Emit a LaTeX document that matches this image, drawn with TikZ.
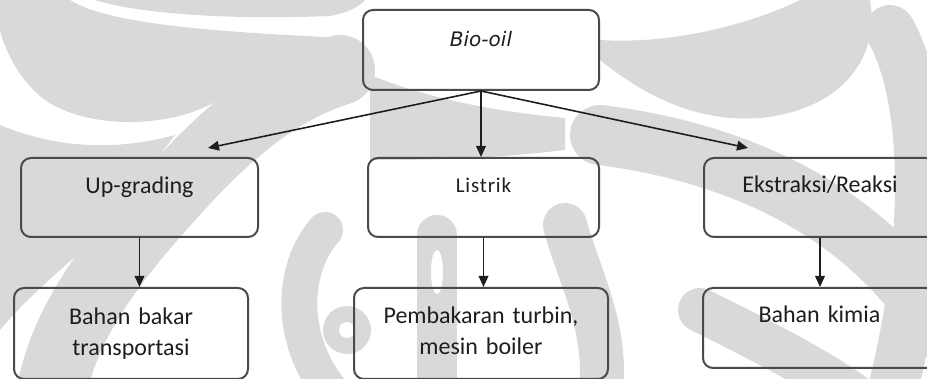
\documentclass[tikz,border=0pt]{standalone}
\usepackage{fontspec}
\setmainfont{Carlito}
\newfontfamily\oilfont{DejaVu Sans}
\usetikzlibrary{arrows.meta,positioning}
\definecolor{boxgray}{HTML}{4A4A4A}
\definecolor{inkgray}{HTML}{1E1E1E}
\definecolor{wmgray}{HTML}{D9D9D9}
\tikzset{
    % flow chart boxes, text sits in the upper part
    stage/.style={
           draw=boxgray,
           line width=1pt,
           rounded corners=5pt,
           inner sep=0pt,
           anchor=north west,
           align=center,
           text=inkgray,
           font=\fontsize{12}{15.5}\selectfont},
    % arrows between boxes
    flow/.style={
           -{Triangle[length=5.5pt,width=4.8pt]},
           line width=0.8pt,
           draw=inkgray},
    % background mark
    mark band/.style={
           draw=wmgray,
           line cap=round}
}

\begin{document}
\begin{tikzpicture}[x=0.5pt,y=-0.5pt]
\useasboundingbox (0,0) rectangle (927,379);
\begin{scope}
\clip (0,0) rectangle (927,379);
% left swirl
\fill[wmgray] (0,0) -- (70,0) .. controls (110,25) and (220,32) .. (345,38)
   .. controls (300,55) and (260,75) .. (215,102)
   .. controls (165,130) and (85,128) .. (45,100)
   .. controls (15,78) and (2,40) .. (0,30) -- cycle;
\fill[wmgray] (95,0) .. controls (140,14) and (230,20) .. (330,16)
   .. controls (350,12) and (360,6) .. (365,0) -- cycle;
\fill[wmgray] (0,125) .. controls (60,150) and (120,150) .. (175,135)
   -- (100,235) .. controls (60,270) and (25,300) .. (0,330) -- cycle;
\draw[mark band, line width=35pt] (340,70) .. controls (260,95) and (200,160) .. (140,230)
   .. controls (90,290) and (60,340) .. (50,400);
% centre
\fill[wmgray] (370,75) .. controls (420,95) and (480,110) .. (565,118)
   -- (565,150) .. controls (480,160) and (420,160) .. (370,160) -- cycle;
\draw[mark band, line width=20pt] (437,235) -- (437,400);
\fill[white] (437,272) ellipse (6 and 22);
\draw[mark band, line width=18pt] (325,230) .. controls (290,270) and (290,340) .. (330,390);
\fill[wmgray] (347,330) circle (24);
\fill[white] (347,330) circle (8);
\draw[mark band, line width=22pt] (565,225) .. controls (580,280) and (610,330) .. (600,400);
% right swirl
\fill[wmgray] (600,40) .. controls (680,45) and (760,20) .. (800,0) -- (870,0)
   .. controls (880,60) and (840,110) .. (760,118)
   .. controls (700,122) and (650,100) .. (600,60) -- cycle;
\draw[mark band, line width=30pt] (600,135) .. controls (720,150) and (860,200) .. (940,330);
\draw[mark band, line width=22pt] (700,310) .. controls (760,340) and (820,370) .. (860,400);
\draw[mark band, line width=25pt] (890,30) .. controls (930,100) and (930,250) .. (890,400);
\end{scope}
% boxes
\node[stage, text width=118pt, text height=18.5pt, text depth=21.5pt,
  font=\oilfont\itshape\fontsize{10}{12}\selectfont] (oil) at (362,9) {Bio-oil};
\node[stage, text width=118.5pt, text height=18pt, text depth=21.5pt] (up) at (20,157) {Up-grading};
\node[stage, text width=115.5pt, text height=17.5pt, text depth=22pt,
  font=\fontsize{10.5}{12}\selectfont\addfontfeatures{LetterSpace=4}] (lis) at (367,157) {Listrik};
\node[stage, text width=116pt, text height=17.5pt, text depth=22pt] (eks) at (703,157) {Ekstraksi/Reaksi};
\node[stage, text width=117pt, text height=18.5pt, text depth=27pt] (bbt) at (13,287) {Bahan bakar\\transportasi};
\node[stage, text width=127pt, text height=18pt, text depth=27.5pt] (pem) at (353,287) {Pembakaran turbin,\\mesin boiler};
\node[stage, text width=116.5pt, text height=17.5pt, text depth=22.5pt] (kim) at (702,287) {Bahan kimia};
% arrows
\coordinate (upin) at (208,148);
\coordinate (eksin) at (748,148);
\draw[flow] (oil.south) -- (upin);
\draw[flow] (oil.south) -- (oil.south |- lis.north);
\draw[flow] (oil.south) -- (eksin);
\draw[flow] (up.south) -- (up.south |- bbt.north);
\draw[flow] (lis.south) -- (lis.south |- pem.north);
\draw[flow] (eks.south) -- (eks.south |- kim.north);
\end{tikzpicture}
\end{document}
